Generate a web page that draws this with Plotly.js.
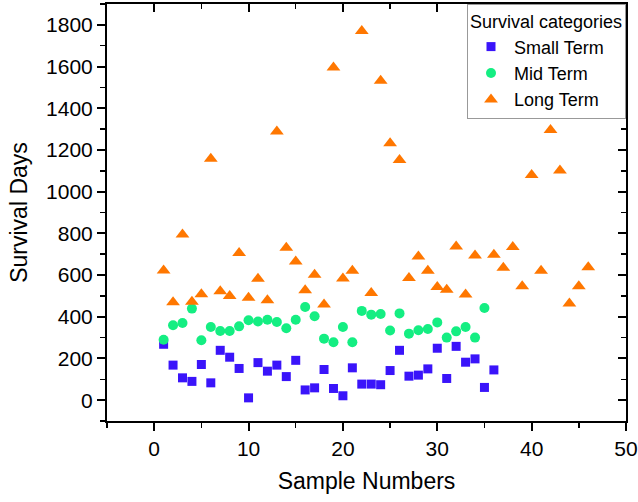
<!DOCTYPE html>
<html>
<head>
<meta charset="utf-8">
<script src="https://cdn.plot.ly/plotly-3.0.1.min.js"></script>
<style>html,body{margin:0;padding:0;background:#fff;}#chart{width:638px;height:502px;}</style>
</head>
<body>
<div id="chart"></div>
<script>
const sampleNumbers = [1,2,3,4,5,6,7,8,9,10,11,12,13,14,15,16,17,18,19,20,21,22,23,24,25,26,27,28,29,30,31,32,33,34,35,36,37,38,39,40,41,42,43,44,45,46];
const smallTerm = [268,168,107,90,171,83,239,206,152,11,180,139,168,113,191,49,59,147,56,21,155,77,77,74,142,239,115,120,150,249,104,258,182,198,61,145];
const midTerm = [290,359,370,439,287,351,332,332,354,383,377,386,375,345,386,447,402,295,278,351,278,428,410,413,334,416,319,335,341,373,300,330,351,300,442];
const longTerm = [622,470,795,472,508,1158,522,499,706,491,582,479,1288,731,665,527,601,459,1596,584,621,1771,514,1532,1232,1152,586,689,621,543,530,737,507,694,1412,697,635,734,546,1080,621,1296,1101,463,546,638];
const seriesNames = ['Small Term', 'Mid Term', 'Long Term'];
const legendTitle = 'Survival categories';
const xTitle = 'Sample Numbers';
const yTitle = 'Survival Days';

const FONT = '"Liberation Sans", Arial, sans-serif';

const traces = [
  {type:'scatter', mode:'markers', name:seriesNames[0],
   x:sampleNumbers.slice(0, smallTerm.length), y:smallTerm,
   marker:{symbol:'square', size:9, color:'#3a14fa', line:{width:0}}},
  {type:'scatter', mode:'markers', name:seriesNames[1],
   x:sampleNumbers.slice(0, midTerm.length), y:midTerm,
   marker:{symbol:'circle', size:10, color:'#14ee82', line:{width:0}}},
  {type:'scatter', mode:'markers', name:seriesNames[2],
   x:sampleNumbers.slice(0, longTerm.length), y:longTerm,
   marker:{symbol:'triangle-up', size:12, color:'#ff7700', line:{width:0}}},
  {type:'scatter', mode:'markers', x:[], y:[], xaxis:'x2', yaxis:'y2',
   showlegend:false, hoverinfo:'skip'}
];

const axisCommon = {
  showline:true, linewidth:2, linecolor:'#000', zeroline:false, showgrid:false,
  ticks:'outside', ticklen:8, tickwidth:2, tickcolor:'#000',
  tickfont:{family:FONT, size:21, color:'#000'}
};

const layout = {
  width:638, height:502,
  margin:{l:107, r:12, t:4, b:81},
  paper_bgcolor:'#fff', plot_bgcolor:'#fff',
  font:{family:FONT, color:'#000'},
  showlegend:true,
  xaxis:Object.assign({}, axisCommon, {
    range:[-5,50], tick0:0, dtick:10,
    minor:{dtick:5, tick0:0, ticks:'outside', ticklen:5, tickwidth:1.5, tickcolor:'#000', showgrid:false},
    title:{text:xTitle, font:{family:FONT, size:23, color:'#000'}, standoff:14}
  }),
  yaxis:Object.assign({}, axisCommon, {
    range:[-100,1900], tick0:0, dtick:200,
    minor:{dtick:100, tick0:0, ticks:'outside', ticklen:5, tickwidth:1.5, tickcolor:'#000', showgrid:false},
    title:{text:yTitle, font:{family:FONT, size:23, color:'#000'}, standoff:12}
  }),
  xaxis2:{overlaying:'x', side:'top', anchor:'y', range:[-5,50], tick0:0, dtick:10,
    showline:true, linewidth:2, linecolor:'#000', zeroline:false, showgrid:false,
    ticks:'inside', ticklen:8, tickwidth:2, tickcolor:'#000', showticklabels:false,
    minor:{dtick:5, tick0:0, ticks:'inside', ticklen:5, tickwidth:1.5, tickcolor:'#000', showgrid:false}},
  yaxis2:{overlaying:'y', side:'right', anchor:'x', range:[-100,1900], tick0:0, dtick:200,
    showline:true, linewidth:2, linecolor:'#000', zeroline:false, showgrid:false,
    ticks:'inside', ticklen:8, tickwidth:2, tickcolor:'#000', showticklabels:false,
    minor:{dtick:100, tick0:0, ticks:'inside', ticklen:5, tickwidth:1.5, tickcolor:'#000', showgrid:false}},
  legend:{
    x:1, xanchor:'right', y:1, yanchor:'top',
    bgcolor:'#fff', bordercolor:'#999', borderwidth:1,
    font:{family:FONT, size:18, color:'#000'},
    title:{text:legendTitle, font:{family:FONT, size:18, color:'#000'}},
    itemwidth:36,
    tracegroupgap:0
  }
};

Plotly.newPlot('chart', traces, layout, {staticPlot:true, displayModeBar:false});
</script>
</body>
</html>
